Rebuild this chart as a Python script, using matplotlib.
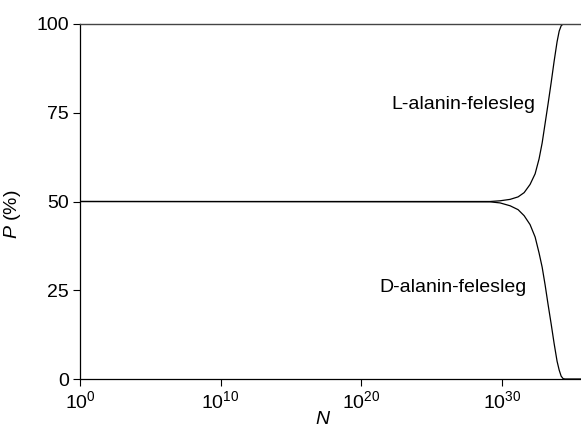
import numpy as np
import matplotlib
matplotlib.use("Agg")
import matplotlib.pyplot as plt

plt.rcParams['font.family'] = ['Liberation Sans', 'DejaVu Sans']
plt.rcParams['mathtext.fontset'] = 'custom'
plt.rcParams['mathtext.rm'] = 'Liberation Sans'
plt.rcParams['mathtext.it'] = 'Liberation Sans:italic'

# log10(N) and P (%)
logN_L = [0, 29.14, 29.85, 30.56, 31.13, 31.56, 31.98, 32.34, 32.62, 32.84, 33.05,
          33.26, 33.48, 33.69, 33.90, 34.05, 34.19, 34.33, 35.6]
P_L = [50, 50.0, 50.2, 50.6, 51.3, 52.5, 54.8, 57.8, 62.0, 66.5, 72.0,
       77.5, 83.5, 89.5, 95.0, 98.0, 99.5, 100, 100]

logN_D = [0, 29.14, 29.85, 30.56, 31.13, 31.56, 31.98, 32.34, 32.62, 32.84, 33.05,
          33.26, 33.48, 33.69, 33.90, 34.05, 34.19, 34.33, 34.47, 35.6]
P_D = [50, 49.9, 49.6, 48.8, 47.7, 46.0, 43.5, 40.0, 35.5, 31.5, 26.5,
       21.0, 15.5, 10.0, 5.0, 2.5, 0.8, 0.1, 0, 0]

xticks = [0, 10, 20, 30]
yticks = [0, 25, 50, 75, 100]

fig = plt.figure(figsize=(5.81, 4.28), dpi=100)
ax = fig.add_axes([80/581, 1-379/428, 501/581, 355/428])

ax.plot(10.0**np.array(logN_L), P_L, color='black', lw=0.9)
ax.plot(10.0**np.array(logN_D), P_D, color='black', lw=0.9)

ax.set_xscale('log')
ax.set_xlim(1, 10**35.6)
ax.set_ylim(0, 100)
ax.set_xticks([10.0**t for t in xticks])
ax.set_xticklabels(['$10^{%d}$' % t for t in xticks])
ax.xaxis.set_minor_locator(matplotlib.ticker.NullLocator())
ax.set_yticks(yticks)
ax.set_yticklabels([str(t) for t in yticks])
ax.tick_params(direction='out', length=5, width=0.8, labelsize=14, pad=3)

for s in ['left', 'bottom']:
    ax.spines[s].set_linewidth(0.9)
ax.spines['right'].set_visible(False)
ax.spines['top'].set_color('#444444')
ax.spines['top'].set_linewidth(1.0)

ax.set_xlabel('$N$', fontsize=14)
ax.xaxis.set_label_coords(0.485, -0.09)
ax.set_ylabel('$P$ (%)', fontsize=14)
ax.yaxis.set_label_coords(-0.114, 0.465)

ax.text(10**32.34, 77.2, 'L-alanin-felesleg', ha='right', va='center', fontsize=14)
ax.text(10**31.77, 25.9, 'D-alanin-felesleg', ha='right', va='center', fontsize=14)

fig.savefig('out.png', dpi=100)
